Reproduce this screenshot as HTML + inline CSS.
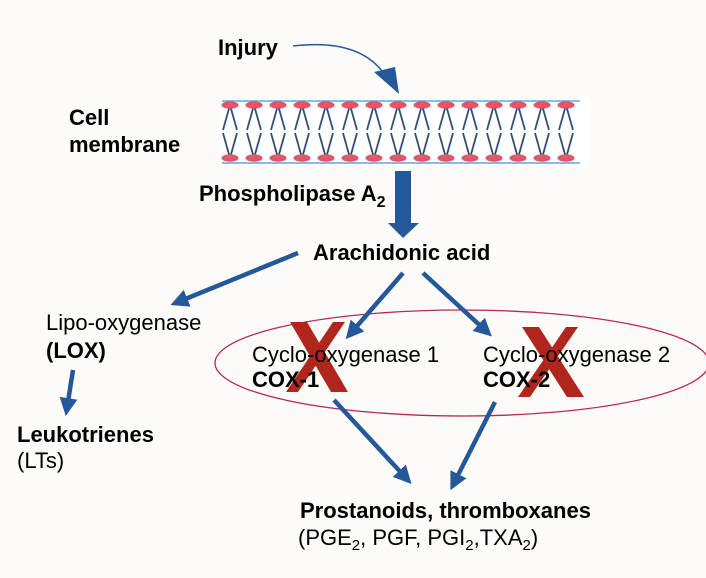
<!DOCTYPE html>
<html><head><meta charset="utf-8"><style>
html,body{margin:0;padding:0;background:#fcfbf8}
svg{display:block}
text{font-family:"Liberation Sans",Arial,sans-serif;fill:#000}
.b{font-weight:bold;font-size:22px}
.n{font-size:22px}
</style></head><body>
<svg width="706" height="578" viewBox="0 0 706 578" xmlns="http://www.w3.org/2000/svg">
<defs>
<marker id="ah" markerWidth="4" markerHeight="4" refX="2.2" refY="2" orient="auto" markerUnits="strokeWidth">
<path d="M0,0 L4,2 L0,4 Z" fill="#24589a"/></marker>
</defs>
<rect x="0" y="0" width="706" height="578" fill="#fcfbf8"/>
<!-- membrane -->
<rect x="220" y="97" width="370" height="70" fill="#fff"/>
<line x1="222" y1="101" x2="580" y2="101" stroke="#5fa8d8" stroke-width="1.5"/>
<line x1="222" y1="163" x2="580" y2="163" stroke="#5fa8d8" stroke-width="1.5"/>
<g stroke="#2f4f78" stroke-width="1.8">
<path d="M230,105 l-7,25 M230,105 l7,25 M254,105 l-7,25 M254,105 l7,25 M278,105 l-7,25 M278,105 l7,25 M302,105 l-7,25 M302,105 l7,25 M326,105 l-7,25 M326,105 l7,25 M350,105 l-7,25 M350,105 l7,25 M374,105 l-7,25 M374,105 l7,25 M398,105 l-7,25 M398,105 l7,25 M422,105 l-7,25 M422,105 l7,25 M446,105 l-7,25 M446,105 l7,25 M470,105 l-7,25 M470,105 l7,25 M494,105 l-7,25 M494,105 l7,25 M518,105 l-7,25 M518,105 l7,25 M542,105 l-7,25 M542,105 l7,25 M566,105 l-7,25 M566,105 l7,25"/>
<path d="M230,158 l-7,-25 M230,158 l7,-25 M254,158 l-7,-25 M254,158 l7,-25 M278,158 l-7,-25 M278,158 l7,-25 M302,158 l-7,-25 M302,158 l7,-25 M326,158 l-7,-25 M326,158 l7,-25 M350,158 l-7,-25 M350,158 l7,-25 M374,158 l-7,-25 M374,158 l7,-25 M398,158 l-7,-25 M398,158 l7,-25 M422,158 l-7,-25 M422,158 l7,-25 M446,158 l-7,-25 M446,158 l7,-25 M470,158 l-7,-25 M470,158 l7,-25 M494,158 l-7,-25 M494,158 l7,-25 M518,158 l-7,-25 M518,158 l7,-25 M542,158 l-7,-25 M542,158 l7,-25 M566,158 l-7,-25 M566,158 l7,-25"/>
</g>
<g fill="#e0576a">
<ellipse cx="230" cy="105" rx="8.5" ry="3.8"/><ellipse cx="254" cy="105" rx="8.5" ry="3.8"/><ellipse cx="278" cy="105" rx="8.5" ry="3.8"/><ellipse cx="302" cy="105" rx="8.5" ry="3.8"/><ellipse cx="326" cy="105" rx="8.5" ry="3.8"/><ellipse cx="350" cy="105" rx="8.5" ry="3.8"/><ellipse cx="374" cy="105" rx="8.5" ry="3.8"/><ellipse cx="398" cy="105" rx="8.5" ry="3.8"/><ellipse cx="422" cy="105" rx="8.5" ry="3.8"/><ellipse cx="446" cy="105" rx="8.5" ry="3.8"/><ellipse cx="470" cy="105" rx="8.5" ry="3.8"/><ellipse cx="494" cy="105" rx="8.5" ry="3.8"/><ellipse cx="518" cy="105" rx="8.5" ry="3.8"/><ellipse cx="542" cy="105" rx="8.5" ry="3.8"/><ellipse cx="566" cy="105" rx="8.5" ry="3.8"/>
<ellipse cx="230" cy="158" rx="8.5" ry="3.8"/><ellipse cx="254" cy="158" rx="8.5" ry="3.8"/><ellipse cx="278" cy="158" rx="8.5" ry="3.8"/><ellipse cx="302" cy="158" rx="8.5" ry="3.8"/><ellipse cx="326" cy="158" rx="8.5" ry="3.8"/><ellipse cx="350" cy="158" rx="8.5" ry="3.8"/><ellipse cx="374" cy="158" rx="8.5" ry="3.8"/><ellipse cx="398" cy="158" rx="8.5" ry="3.8"/><ellipse cx="422" cy="158" rx="8.5" ry="3.8"/><ellipse cx="446" cy="158" rx="8.5" ry="3.8"/><ellipse cx="470" cy="158" rx="8.5" ry="3.8"/><ellipse cx="494" cy="158" rx="8.5" ry="3.8"/><ellipse cx="518" cy="158" rx="8.5" ry="3.8"/><ellipse cx="542" cy="158" rx="8.5" ry="3.8"/><ellipse cx="566" cy="158" rx="8.5" ry="3.8"/>
</g>
<!-- injury arrow -->
<path d="M293,46 Q360,38 385,75" fill="none" stroke="#24589a" stroke-width="1.5"/>
<path d="M374,72 L395,67 L399,94 Z" fill="#24589a"/>
<!-- big arrow -->
<path d="M395,171 L411,171 L411,223 L419,223 L403,238 L388,223 L395,223 Z" fill="#24589a"/>
<!-- ellipse -->
<ellipse cx="462" cy="363" rx="247" ry="53" fill="none" stroke="#b8285a" stroke-width="1.3"/>
<!-- X marks -->
<g fill="#b0261c">
<polygon points="290,322 307,322 348,392 331,392"/>
<polygon points="333,322 345,322 298,392 286,392"/>
<polygon points="522,327 539,327 584,397 567,397"/>
<polygon points="566,327 578,327 530,397 518,397"/>
</g>
<!-- arrows -->
<g stroke="#24589a" stroke-width="4.5" fill="none" marker-end="url(#ah)">
<line x1="298" y1="253" x2="178" y2="302"/>
<line x1="403" y1="273" x2="351" y2="333"/>
<line x1="423" y1="273" x2="486" y2="331"/>
<line x1="73" y1="370" x2="67" y2="408"/>
<line x1="334" y1="400" x2="406" y2="478"/>
<line x1="495" y1="402" x2="454" y2="483"/>
</g>
<!-- texts -->
<text x="218" y="55" class="b">Injury</text>
<text x="69" y="125" class="b">Cell</text>
<text x="69" y="152" class="b">membrane</text>
<text x="199" y="201" class="b">Phospholipase A<tspan font-size="16" dy="6">2</tspan></text>
<text x="313" y="260" class="b">Arachidonic acid</text>
<text x="46" y="330" class="n">Lipo-oxygenase</text>
<text x="46" y="358" class="b">(LOX)</text>
<text x="17" y="442" class="b">Leukotrienes</text>
<text x="17" y="468" class="n">(LTs)</text>
<text x="252" y="362" class="n">Cyclo-oxygenase  1</text>
<text x="252" y="387" class="b">COX-1</text>
<text x="483" y="362" class="n">Cyclo-oxygenase  2</text>
<text x="483" y="387" class="b">COX-2</text>
<text x="300" y="518" class="b">Prostanoids, thromboxanes</text>
<text x="298" y="545" class="n">(PGE<tspan font-size="15" dy="5">2</tspan><tspan dy="-5">, PGF, PGI</tspan><tspan font-size="15" dy="5">2</tspan><tspan dy="-5">,TXA</tspan><tspan font-size="15" dy="5">2</tspan><tspan dy="-5">)</tspan></text>
</svg>
</body></html>
